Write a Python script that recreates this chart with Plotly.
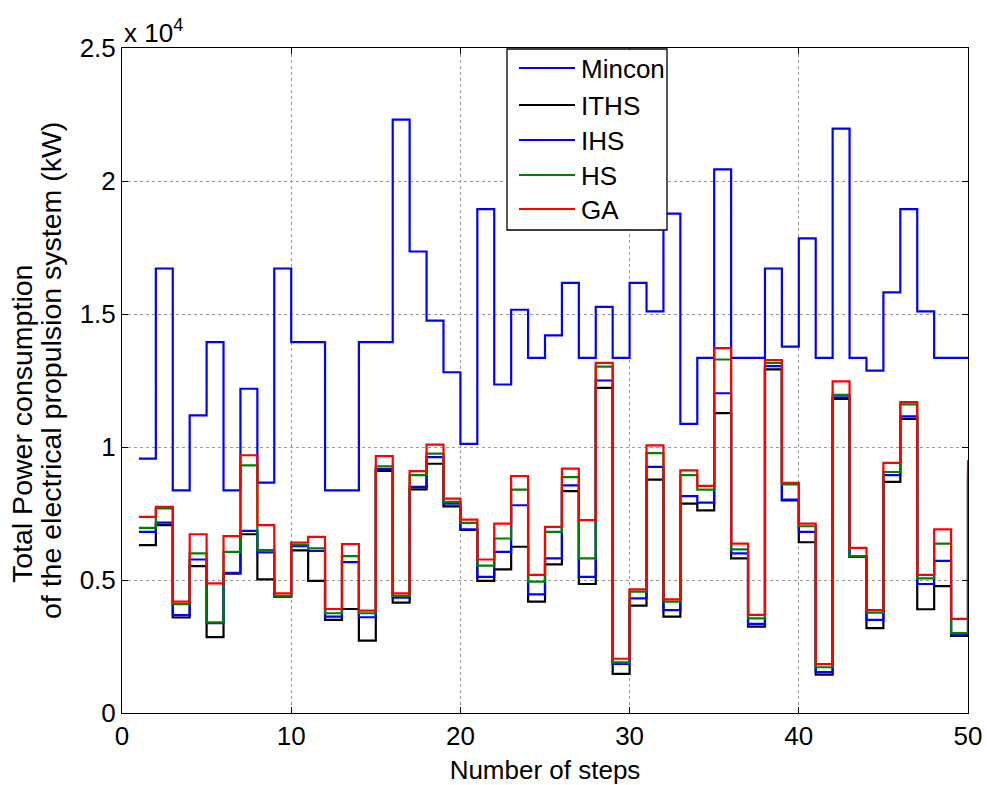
import plotly.graph_objects as go

# Step index (1..50)
steps = list(range(1, 51))

# Total power consumption per step (kW) for each method
mincon = [9560, 16710, 8370, 11190, 13940, 8370, 12190, 8660, 16710, 13940,
          13940, 8370, 8370, 13940, 13940, 22310, 17350, 14750, 12810, 10120,
          18940, 12350, 15160, 13350, 14200, 16170, 13350, 15270, 13350, 16170,
          15100, 18770, 10870, 13350, 20440, 13350, 13350, 16710, 13770, 17840,
          13350, 21970, 13350, 12870, 15810, 18940, 15100, 13350, 13350, 13350]

iths = [6310, 7060, 3590, 5520, 2850, 5240, 6720, 5020, 4370, 6110,
        4970, 3500, 3910, 2720, 9100, 4150, 8410, 9370, 7770, 6880,
        4970, 5400, 6250, 4190, 5590, 8340, 4850, 12220, 1470, 4040,
        8770, 3620, 7870, 7620, 11270, 5810, 3250, 12920, 7990, 6420,
        1440, 11810, 5870, 3190, 8690, 11060, 3900, 4770, 2900, 8800]

ihs = [6810, 7160, 3680, 5770, 3380, 5270, 6850, 6040, 4380, 6270,
       6090, 3620, 5670, 3600, 9170, 4340, 8500, 9620, 7870, 6900,
       5120, 6060, 7810, 4460, 5810, 8560, 5120, 12500, 1850, 4310,
       9250, 3870, 8150, 7910, 12020, 6000, 3350, 13040, 8020, 6810,
       1540, 11870, 5880, 3500, 8940, 11150, 4850, 5720, 2950, 9000]

hs = [6960, 7690, 4090, 6000, 3410, 6060, 9310, 6120, 4400, 6330,
      6190, 3750, 5900, 3750, 9270, 4400, 8940, 9750, 7940, 7150,
      5540, 6560, 8400, 4940, 6810, 8870, 5810, 13020, 1900, 4560,
      9770, 4190, 8940, 8400, 13290, 6150, 3560, 13160, 8590, 7020,
      1720, 11960, 5900, 3770, 9060, 11600, 5060, 6370, 3000, 9200]

ga = [7370, 7750, 4190, 6720, 4870, 6650, 9690, 7060, 4500, 6410,
      6620, 3910, 6350, 3850, 9660, 4500, 9090, 10090, 8060, 7270,
      5770, 7120, 8910, 5190, 7000, 9190, 7250, 13160, 2040, 4650,
      10060, 4270, 9120, 8540, 13720, 6370, 3690, 13270, 8650, 7120,
      1840, 12470, 6210, 3870, 9400, 11690, 5190, 6900, 3540, 9500]

series_names = ["Mincon", "ITHS", "IHS", "HS", "GA"]
series_values = [mincon, iths, ihs, hs, ga]
series_colors = ["rgb(0,0,255)", "rgb(0,0,0)", "rgb(0,0,255)", "rgb(0,128,0)", "rgb(255,0,0)"]

y_tickvals = [0, 5000, 10000, 15000, 20000, 25000]
y_ticktext = ["0", "0.5", "1", "1.5", "2", "2.5"]
x_tickvals = [0, 10, 20, 30, 40, 50]

FONT = "Liberation Sans, Arial, sans-serif"
W, H = 987, 785
ML, MR, MT, MB = 122, 19, 48, 72
PW, PH = W - ML - MR, H - MT - MB


def px_x(px):
    """Pixel column -> paper x."""
    return (px - ML) / PW


def px_y(py):
    """Pixel row -> paper y."""
    return (H - MB - py) / PH


fig = go.Figure()
for name, vals, color in zip(series_names, series_values, series_colors):
    fig.add_trace(go.Scatter(
        x=steps, y=vals, name=name, mode="lines",
        line=dict(color=color, width=2.2, shape="hv"),
        showlegend=False,
    ))

axis_common = dict(
    showline=True, linecolor="black", linewidth=1, mirror="ticks",
    ticks="inside", ticklen=6, tickcolor="black",
    showgrid=True, gridcolor="#9a9a9a", griddash="dot", gridwidth=1,
    zeroline=False, automargin=False,
    tickfont=dict(family=FONT, size=26, color="black"),
)

fig.update_layout(
    width=W, height=H,
    margin=dict(l=ML, r=MR, t=MT, b=MB),
    paper_bgcolor="white", plot_bgcolor="white",
    font=dict(family=FONT, size=26, color="black"),
    xaxis=dict(range=[0, 50], tickvals=x_tickvals,
               title=dict(text="Number of steps", standoff=10,
                          font=dict(family=FONT, size=26)),
               **axis_common),
    yaxis=dict(range=[0, 25000], tickvals=y_tickvals, ticktext=y_ticktext,
               **axis_common),
    showlegend=False,
)

# Y-axis title, two rotated lines
for text, cx, cy in [("Total Power consumption", 22, 424),
                     ("of the electrical propulsion system (kW)", 51, 371)]:
    fig.add_annotation(xref="paper", yref="paper", x=px_x(cx), y=px_y(cy),
                       xanchor="center", yanchor="middle", textangle=-90,
                       text=text, showarrow=False,
                       font=dict(family=FONT, size=28.5, color="black"))

# Axis exponent label
fig.add_annotation(xref="paper", yref="paper", x=0, y=1, xanchor="left", yanchor="bottom",
                   text="x 10<sup>4</sup>", showarrow=False,
                   font=dict(family=FONT, size=26, color="black"), yshift=-2)

# Legend box
fig.add_shape(type="rect", xref="paper", yref="paper",
              x0=px_x(507), x1=px_x(667), y0=px_y(230), y1=px_y(49),
              line=dict(color="black", width=1.3), fillcolor="white", layer="above")
legend_rows = [68, 105, 140, 175, 209]
for name, color, ry in zip(series_names, series_colors, legend_rows):
    fig.add_shape(type="line", xref="paper", yref="paper",
                  x0=px_x(519), x1=px_x(575), y0=px_y(ry), y1=px_y(ry),
                  line=dict(color=color, width=2.2), layer="above")
    fig.add_annotation(xref="paper", yref="paper", x=px_x(579), y=px_y(ry + 1),
                       xanchor="left", yanchor="middle", text=name, showarrow=False,
                       font=dict(family=FONT, size=26, color="black"))

fig.write_html("out.html")
